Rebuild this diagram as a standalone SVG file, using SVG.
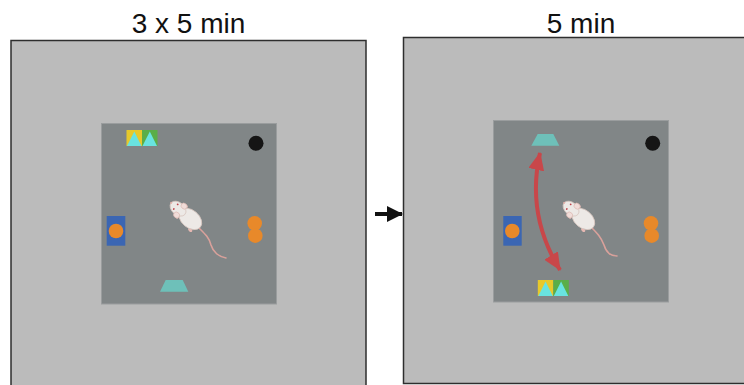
<svg xmlns="http://www.w3.org/2000/svg" width="744" height="385" viewBox="0 0 744 385">
  <style>
    .title { font-family: "Liberation Sans", Arial, sans-serif; font-size: 28px; fill: #111; text-anchor: middle; }
    .arena { fill: #bbbbbb; stroke: #2e2e2e; stroke-width: 1.5; }
    .floor { fill: #818687; stroke: #9a9d9e; stroke-width: 1; }
    .orange { fill: #e8892a; }
    .blue { fill: #3b66b3; }
    .black { fill: #151515; }
    .teal { fill: #6ec0b9; }
    .yellow { fill: #e7c92b; }
    .green { fill: #5aae48; }
    .cyan { fill: #69e3e0; }
    .tail { fill: none; stroke: #d9a19b; stroke-width: 1.6; stroke-linecap: round; }
    .body { fill: #ede9e6; stroke: #d8c6c0; stroke-width: 0.8; }
    .ear { fill: #f0dcd8; stroke: #d8b3ad; stroke-width: 0.6; }
    .paw { fill: #e6b8b2; }
  </style>
  <defs>
    <!-- top-down mouse, nose pointing to -x -->
    <g id="mouse">
      <ellipse class="paw" cx="-9" cy="7" rx="2.4" ry="1.6"/>
      <ellipse class="paw" cx="-9" cy="-7" rx="2.4" ry="1.6"/>
      <ellipse class="paw" cx="10" cy="8.5" rx="2.4" ry="1.6"/>
      <ellipse class="body" cx="3" cy="0" rx="13" ry="8.8"/>
      <ellipse class="body" cx="-13" cy="0" rx="9" ry="6.2"/>
      <ellipse class="ear" cx="-10" cy="-5.8" rx="3.2" ry="2.8"/>
      <ellipse class="ear" cx="-10" cy="5.8" rx="3.2" ry="2.8"/>
      <circle cx="-16" cy="-3" r="0.9" fill="#c0424a"/>
      <circle cx="-16" cy="3" r="0.9" fill="#c0424a"/>
      <circle cx="-22" cy="0" r="1" fill="#e6b0aa"/>
    </g>
    <!-- yellow and green tiles with cyan triangles -->
    <g id="tiles">
      <rect class="yellow" x="0" y="0" width="15.5" height="16"/>
      <rect class="green" x="15.5" y="0" width="15.5" height="16"/>
      <polygon class="cyan" points="0.5,16 7.8,1.5 15,16"/>
      <polygon class="cyan" points="16,16 23.3,1.5 30.5,16"/>
    </g>
    <marker id="redHead" viewBox="0 0 18 16" refX="17" refY="8" markerWidth="18" markerHeight="16" markerUnits="userSpaceOnUse" orient="auto-start-reverse">
      <path d="M0,0 L18,8 L0,16 z" fill="#c8474a"/>
    </marker>
    <marker id="blackHead" viewBox="0 0 16 16" refX="15" refY="8" markerWidth="16" markerHeight="16" markerUnits="userSpaceOnUse" orient="auto">
      <path d="M0,0 L16,8 L0,16 z" fill="#111"/>
    </marker>
  </defs>

  <!-- habituation arena -->
  <g id="habituation">
    <text class="title" x="188.5" y="33">3 x 5 min</text>
    <rect class="arena" x="11" y="40.5" width="355" height="350"/>
    <rect class="floor" x="101.5" y="123.5" width="175" height="180.5"/>
    <use href="#tiles" x="126.5" y="130"/>
    <circle class="black" cx="256" cy="143.3" r="7.5"/>
    <rect class="blue" x="106.7" y="216" width="18.6" height="29.7"/>
    <circle class="orange" cx="116" cy="231" r="7.3"/>
    <circle class="orange" cx="254.7" cy="223.3" r="7.3"/>
    <circle class="orange" cx="255.3" cy="235.7" r="7.3"/>
    <polygon class="teal" points="160,291.7 188.3,291.7 182.7,280 165.7,280"/>
    <path class="tail" d="M198,227 C204,233 209,237 211,245 C213,252 219,257 226,258"/>
    <use href="#mouse" transform="translate(188,217) rotate(40)"/>
  </g>

  <!-- test arena -->
  <g id="test">
    <text class="title" x="581" y="33">5 min</text>
    <rect class="arena" x="403.5" y="37.5" width="360" height="346"/>
    <rect class="floor" x="493.5" y="120.5" width="175" height="181.5"/>
    <polygon class="teal" points="531.3,145.7 559.3,145.7 553.3,134 537.7,134"/>
    <circle class="black" cx="652.7" cy="143.3" r="7.5"/>
    <rect class="blue" x="503.3" y="216" width="18.4" height="29.7"/>
    <circle class="orange" cx="512.3" cy="231" r="7.3"/>
    <circle class="orange" cx="651" cy="223.3" r="7.3"/>
    <circle class="orange" cx="651.7" cy="235.7" r="7.3"/>
    <use href="#tiles" x="537.8" y="280"/>
    <path class="tail" d="M591,227 C597,233 601,237 604,245 C606,252 611,256 617,256"/>
    <use href="#mouse" transform="translate(581,217) rotate(40)"/>
    <!-- object displacement -->
    <path d="M540,153 Q526,215 560,270" fill="none" stroke="#c8474a" stroke-width="4" marker-start="url(#redHead)" marker-end="url(#redHead)"/>
  </g>

  <g id="connectors">
    <path d="M375,214 L402,214" fill="none" stroke="#111" stroke-width="4" marker-end="url(#blackHead)"/>
  </g>
</svg>
